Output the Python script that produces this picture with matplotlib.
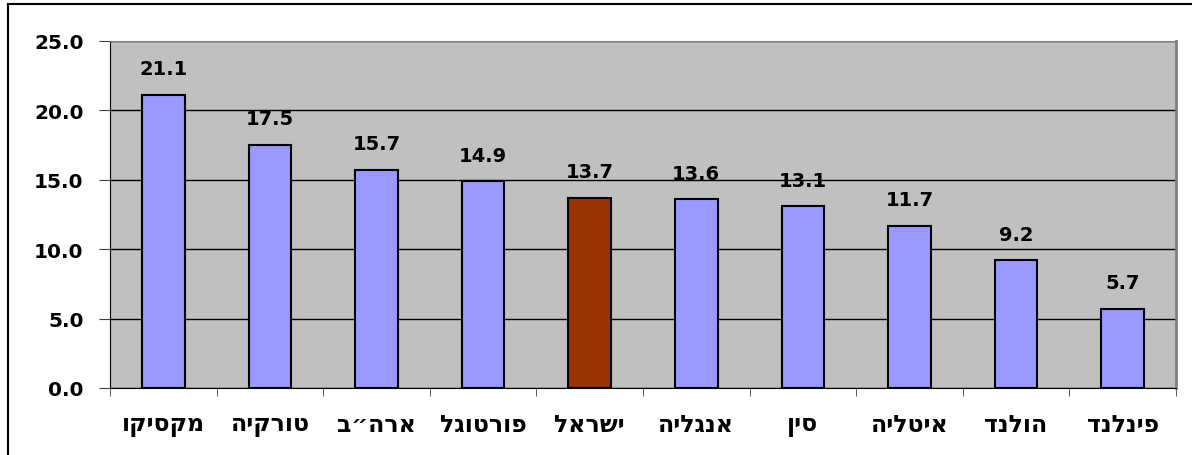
import numpy as np
import matplotlib
matplotlib.use("Agg")
import matplotlib.pyplot as plt
from matplotlib.ticker import FormatStrFormatter, FixedLocator
from matplotlib.lines import Line2D

plt.rcParams['font.family'] = ['DejaVu Sans', 'Liberation Sans']

# data (Hebrew in logical order, reversed for drawing since matplotlib has no bidi)
countries = ["מקסיקו", "טורקיה", "ארה״ב", "פורטוגל", "ישראל",
             "אנגליה", "סין", "איטליה", "הולנד", "פינלנד"]
values = [21.1, 17.5, 15.7, 14.9, 13.7, 13.6, 13.1, 11.7, 9.2, 5.7]
highlight = "ישראל"

bar_color = "#9999FF"
hl_color = "#993300"

fig = plt.figure(figsize=(11.92, 4.56), dpi=100)
ax = fig.add_axes([110/1192, 1 - 389/456, 1066/1192, 347/456])
ax.set_facecolor("#C0C0C0")

x = np.arange(len(countries))
colors = [hl_color if c == highlight else bar_color for c in countries]
bars = ax.bar(x, values, width=0.4, color=colors, edgecolor="black", linewidth=1.5, zorder=3)

for xi, v in zip(x, values):
    ax.annotate("%.1f" % v, (xi, v), xytext=(0, 12), textcoords="offset points",
                ha="center", va="bottom", fontsize=14, fontweight="bold")

ax.set_xlim(-0.5, len(countries) - 0.5)
ax.set_ylim(0, 25)
ax.set_yticks(np.arange(0, 26, 5))
ax.yaxis.set_major_formatter(FormatStrFormatter("%.1f"))
ax.grid(axis="y", color="black", linewidth=1, zorder=0)

ax.set_xticks(x)
ax.set_xticklabels([c[::-1] for c in countries], fontsize=17, fontweight="bold")
ax.xaxis.set_minor_locator(FixedLocator(np.arange(-0.5, len(countries), 1)))
ax.tick_params(axis="x", which="major", length=0, pad=17)
ax.tick_params(axis="x", which="minor", length=6, color="#404040", direction="out")
ax.tick_params(axis="y", length=8, color="#404040", pad=11)
for lab in ax.get_yticklabels():
    lab.set_fontsize(14.5)
    lab.set_fontweight("bold")

ax.spines["left"].set_color("black")
ax.spines["bottom"].set_color("black")
ax.spines["top"].set_color("#808080")
ax.spines["right"].set_color("#808080")
ax.spines["right"].set_linewidth(2)
for s in ax.spines.values():
    s.set_zorder(4)

# outer chart border (top and left visible)
fig.add_artist(Line2D([8/1192, 1.0], [1 - 5/456, 1 - 5/456], color="black", linewidth=1.5))
fig.add_artist(Line2D([8/1192, 8/1192], [0, 1 - 5/456], color="black", linewidth=1.5))

fig.savefig("out.png", dpi=100)
